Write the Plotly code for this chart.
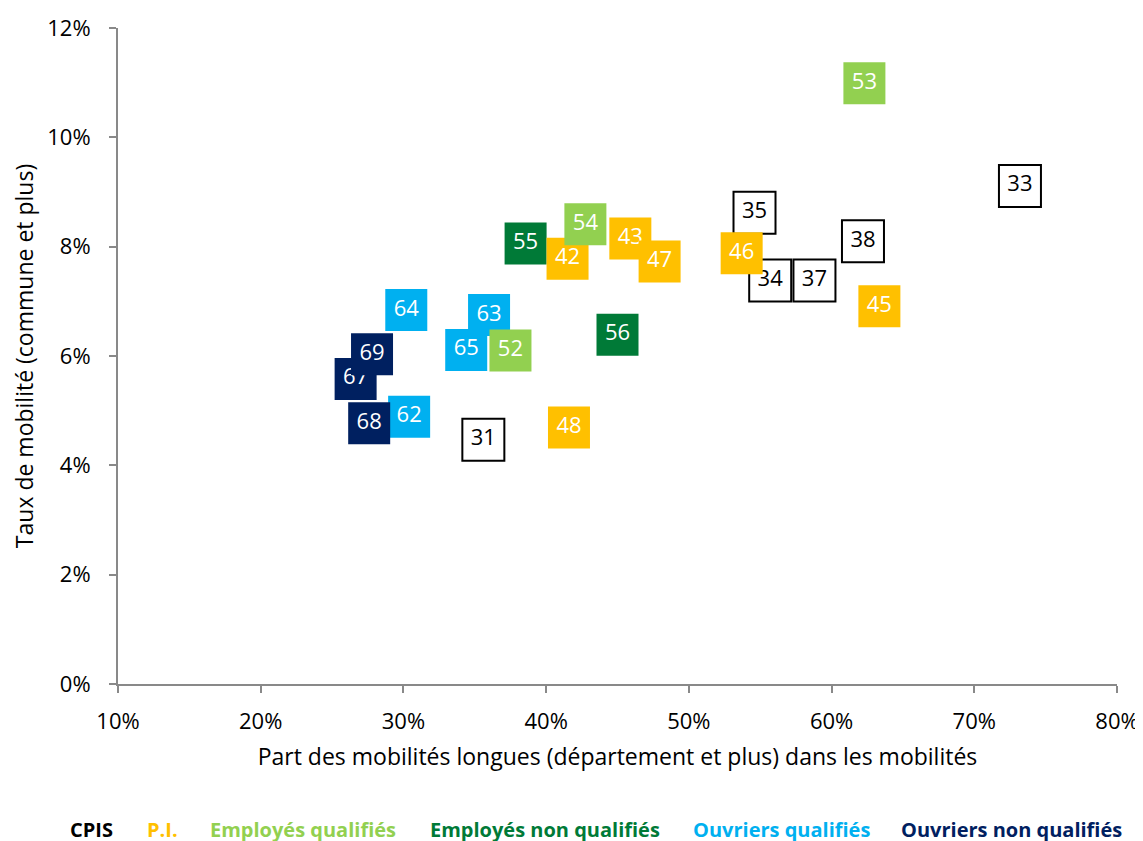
import plotly.graph_objects as go

# ---- data (x: part des mobilités longues, y: taux de mobilité, in %) ----
cpis_codes = ["31", "33", "34", "35", "37", "38"]
cpis_x = [35.6, 73.2, 55.7, 54.6, 58.8, 62.2]
cpis_y = [4.47, 9.11, 7.38, 8.62, 7.38, 8.10]

pi_codes = ["42", "43", "45", "46", "47", "48"]
pi_x = [41.5, 45.9, 63.35, 53.7, 47.95, 41.6]
pi_y = [7.78, 8.15, 6.91, 7.88, 7.73, 4.69]

eq_codes = ["52", "53", "54"]
eq_x = [37.5, 62.3, 42.75]
eq_y = [6.10, 10.99, 8.41]

enq_codes = ["55", "56"]
enq_x = [38.56, 45.0]
enq_y = [8.06, 6.39]

oq_codes = ["62", "63", "64", "65"]
oq_x = [30.4, 36.0, 30.2, 34.4]
oq_y = [4.89, 6.75, 6.84, 6.11]

onq_codes = ["67", "68", "69"]
onq_x = [26.65, 27.6, 27.8]
onq_y = [5.58, 4.77, 6.03]

x_ticks = [10, 20, 30, 40, 50, 60, 70, 80]
y_ticks = [0, 2, 4, 6, 8, 10, 12]

legend_names = ["CPIS", "P.I.", "Employés qualifiés", "Employés non qualifiés",
                "Ouvriers qualifiés", "Ouvriers non qualifiés"]

# ---- styles ----
FONT = "Open Sans"
C_CPIS = "#000000"
C_PI = "#FFC000"
C_EQ = "#92D050"
C_ENQ = "#007A37"
C_OQ = "#00B0F0"
C_ONQ = "#002060"

groups = {
    "CPIS": (cpis_codes, cpis_x, cpis_y, "white", C_CPIS, "black"),
    "P.I.": (pi_codes, pi_x, pi_y, C_PI, None, "white"),
    "Employés qualifiés": (eq_codes, eq_x, eq_y, C_EQ, None, "white"),
    "Employés non qualifiés": (enq_codes, enq_x, enq_y, C_ENQ, None, "white"),
    "Ouvriers qualifiés": (oq_codes, oq_x, oq_y, C_OQ, None, "white"),
    "Ouvriers non qualifiés": (onq_codes, onq_x, onq_y, C_ONQ, None, "white"),
}
legend_colors = [C_CPIS, C_PI, C_EQ, C_ENQ, C_OQ, C_ONQ]

# drawing order (controls overlap of label boxes)
draw_order = ["Employés non qualifiés", "CPIS", "P.I.", "Ouvriers qualifiés",
              "Employés qualifiés", "Ouvriers non qualifiés"]

fig = go.Figure()
for g in draw_order:
    codes, xs, ys, fill, border, tcol = groups[g]
    for c, xv, yv in zip(codes, xs, ys):
        fig.add_trace(go.Scatter(
            x=[xv], y=[yv], mode="markers+text", text=[c],
            textposition="middle center",
            textfont=dict(family=FONT, size=22, color=tcol),
            marker=dict(symbol="square", size=42, color=fill,
                        line=dict(width=2 if border else 0,
                                  color=border if border else fill)),
            showlegend=False, hoverinfo="skip", cliponaxis=False,
        ))

axis_col = "#898989"
fig.update_xaxes(
    range=[10, 80], tickvals=x_ticks, ticktext=[f"{v}%" for v in x_ticks],
    showgrid=False, zeroline=False, showline=True, linecolor=axis_col, linewidth=2,
    ticks="outside", ticklen=7, tickcolor=axis_col, tickwidth=2,
    tickfont=dict(family=FONT, size=22, color="black"), ticklabelstandoff=10,
    ticklabeloverflow="allow", automargin=False,
    title=dict(text="Part des mobilités longues (département et plus) dans les mobilités",
               font=dict(family=FONT, size=23, color="black"), standoff=14),
)
fig.update_yaxes(
    range=[0, 12], tickvals=y_ticks, ticktext=[f"{v}%" for v in y_ticks],
    showgrid=False, zeroline=False, showline=True, linecolor=axis_col, linewidth=2,
    ticks="outside", ticklen=7, tickcolor=axis_col, tickwidth=2,
    tickfont=dict(family=FONT, size=22, color="black"), ticklabelstandoff=14,
    ticklabeloverflow="allow", automargin=False,
    title=dict(text="Taux de mobilité (commune et plus)",
               font=dict(family=FONT, size=23, color="black"), standoff=10),
)

# text-only legend (pixel positions in the page; figure starts at 8px body margin)
OFF = 8
L, R = 117.7 - OFF, 1116.4 - OFF
TOP, BOT = 28 - OFF, 684 - OFF
legend_px = [68, 145, 208, 428, 691, 898]
for name, col, px in zip(legend_names, legend_colors, legend_px):
    fig.add_annotation(
        x=(px - OFF - L) / (R - L), y=(BOT - (829 - OFF)) / (BOT - TOP),
        xref="paper", yref="paper",
        xanchor="left", yanchor="middle", showarrow=False,
        text=f"<b>{name}</b>", font=dict(family=FONT, size=20, color=col),
    )

W, H = 1143, 841
ml, mt = 110, 20
mr = W - ml - 999
mb = H - mt - 656
fig.update_layout(
    width=W, height=H,
    margin=dict(l=ml, r=mr, t=mt, b=mb),
    plot_bgcolor="white", paper_bgcolor="white",
    showlegend=False,
)
fig.write_html("out.html")
